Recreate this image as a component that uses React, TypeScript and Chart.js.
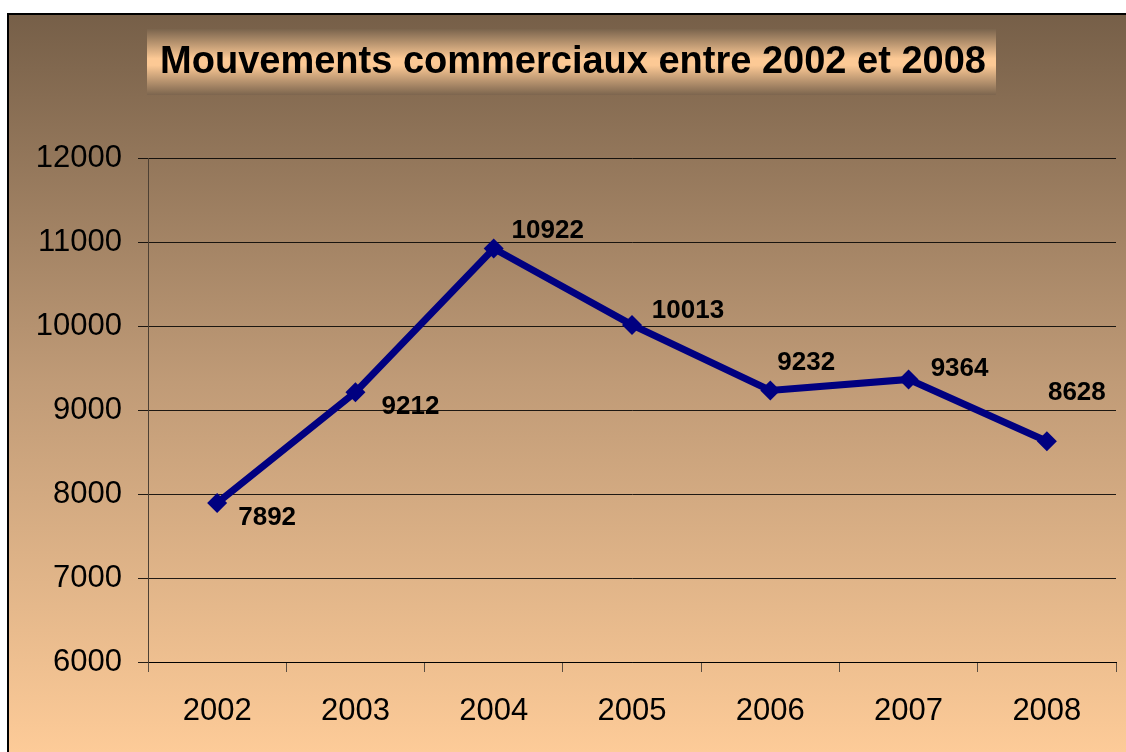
import React, { useEffect, useRef } from "react";
import { Chart, registerables } from "chart.js";

Chart.register(...registerables);

const TITLE = "Mouvements commerciaux entre 2002 et 2008";
const YEARS = ["2002", "2003", "2004", "2005", "2006", "2007", "2008"];
const MOVEMENTS = [7892, 9212, 10922, 10013, 9232, 9364, 8628];
const Y_MIN = 6000;
const Y_MAX = 12000;
const Y_STEP = 1000;

const W = 1126;
const H = 752;
const FONT = "Arial, 'Liberation Sans', sans-serif";

// label offsets (text centre relative to point), style only
const LABEL_OFFSETS: [number, number][] = [
  [50, 15],
  [55, 15],
  [54, -18],
  [56, -14],
  [36, -28],
  [51, -11],
  [30, -48],
];

const backgroundPlugin = {
  id: "bgAndTitle",
  beforeDraw(chart: any) {
    const ctx = chart.ctx as CanvasRenderingContext2D;
    ctx.save();
    ctx.fillStyle = "#ffffff";
    ctx.fillRect(0, 0, W, H);
    const g = ctx.createLinearGradient(0, 14, 0, H);
    g.addColorStop(0, "#765f48");
    g.addColorStop(0.5, "#c09b77");
    g.addColorStop(1, "#fdcb98");
    ctx.fillStyle = g;
    ctx.fillRect(8, 14, W - 8, H - 14);
    ctx.strokeStyle = "#000";
    ctx.lineWidth = 2;
    ctx.beginPath();
    ctx.moveTo(8, H);
    ctx.lineTo(8, 14);
    ctx.lineTo(W, 14);
    ctx.stroke();

    // title box
    const bx = 147, by = 29, bw = 849, bh = 66;
    const tg = ctx.createLinearGradient(0, by, 0, by + bh);
    tg.addColorStop(0, "#7a644d");
    tg.addColorStop(0.45, "#fcc995");
    tg.addColorStop(0.55, "#fcc995");
    tg.addColorStop(1, "#7c654e");
    ctx.fillStyle = tg;
    ctx.fillRect(bx, by, bw, bh);
    ctx.fillStyle = "#000";
    ctx.font = `bold 38px ${FONT}`;
    ctx.textAlign = "center";
    ctx.textBaseline = "alphabetic";
    ctx.fillText(TITLE, 573, 73);
    ctx.restore();
  },
};

const labelPlugin = {
  id: "valueLabels",
  afterDatasetsDraw(chart: any) {
    const ctx = chart.ctx as CanvasRenderingContext2D;
    const meta = chart.getDatasetMeta(0);
    ctx.save();
    ctx.fillStyle = "#000";
    ctx.font = `bold 26px ${FONT}`;
    ctx.textAlign = "center";
    ctx.textBaseline = "middle";
    meta.data.forEach((pt: any, i: number) => {
      const [dx, dy] = LABEL_OFFSETS[i] || [40, -20];
      ctx.fillText(String(MOVEMENTS[i]), pt.x + dx, pt.y + dy);
    });
    ctx.restore();
  },
};

export default function App() {
  const ref = useRef<HTMLCanvasElement>(null);
  useEffect(() => {
    document.body.style.margin = "0";
    const chart = new Chart(ref.current!, {
      type: "line",
      data: {
        labels: YEARS,
        datasets: [
          {
            data: MOVEMENTS,
            borderColor: "#000080",
            backgroundColor: "#000080",
            borderWidth: 7,
            tension: 0,
            pointStyle: "rectRot",
            pointRadius: 10,
            pointBorderWidth: 0,
            pointBackgroundColor: "#000080",
          },
        ],
      },
      options: {
        animation: false,
        responsive: false,
        events: [],
        layout: { padding: { top: 158, right: 9, left: 0, bottom: 0 } },
        plugins: {
          legend: { display: false },
          title: { display: false },
          tooltip: { enabled: false },
        },
        scales: {
          x: {
            offset: true,
            grid: {
              display: true,
              drawOnChartArea: false,
              drawTicks: true,
              tickLength: 10,
              offset: true,
              color: "#5a4d40",
              lineWidth: 1,
            },
            border: { color: "#000", width: 1 },
            ticks: {
              color: "#000",
              font: { family: FONT, size: 31 },
              padding: 21,
            },
            afterFit(scale: any) {
              scale.height = 90;
            },
          },
          y: {
            min: Y_MIN,
            max: Y_MAX,
            grid: {
              color: "rgba(0,0,0,0.85)",
              lineWidth: 1,
              tickLength: 10,
            },
            border: { color: "#4d4033", width: 1 },
            ticks: {
              stepSize: Y_STEP,
              color: "#000",
              font: { family: FONT, size: 31 },
              padding: 16,
              callback: (v: any) => String(v),
            },
            afterFit(scale: any) {
              scale.width = 148;
            },
          },
        },
      },
      plugins: [backgroundPlugin, labelPlugin],
    });
    return () => chart.destroy();
  }, []);
  return (
    <div style={{ position: "fixed", left: 0, top: 0, width: W, height: H }}>
      <canvas ref={ref} width={W} height={H} style={{ display: "block" }} />
    </div>
  );
}
